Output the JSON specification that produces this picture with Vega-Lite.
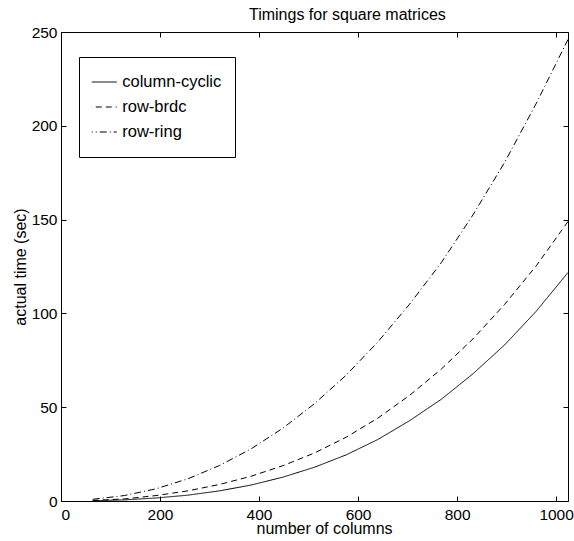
{
  "$schema": "https://vega.github.io/schema/vega-lite/v6.json",
  "width": 507,
  "height": 469,
  "autosize": {"type": "none"},
  "padding": {"left": 61, "top": 32, "right": 6, "bottom": 40},
  "background": "white",
  "title": {
    "text": "Timings for square matrices",
    "fontSize": 16,
    "font": "Liberation Sans",
    "fontWeight": "normal",
    "color": "black",
    "anchor": "start",
    "align": "left",
    "dx": 188,
    "frame": "group",
    "offset": -10.5,
    "baseline": "alphabetic"
  },
  "config": {
    "font": "Liberation Sans",
    "view": {"stroke": "black", "strokeWidth": 1},
    "axis": {
      "domain": false,
      "grid": false,
      "ticks": true,
      "tickSize": -5,
      "tickColor": "black",
      "tickWidth": 1,
      "labelFont": "Liberation Sans",
      "labelFontSize": 15.5,
      "labelColor": "black",
      "titleFont": "Liberation Sans",
      "titleFontSize": 16,
      "titleFontWeight": "normal",
      "titleColor": "black"
    }
  },
  "data": {
    "values": [
      {"n": 64, "time": 0.15, "method": "column-cyclic"},
      {"n": 128, "time": 0.6, "method": "column-cyclic"},
      {"n": 192, "time": 1.6, "method": "column-cyclic"},
      {"n": 256, "time": 3.1, "method": "column-cyclic"},
      {"n": 320, "time": 5.4, "method": "column-cyclic"},
      {"n": 384, "time": 8.5, "method": "column-cyclic"},
      {"n": 448, "time": 12.7, "method": "column-cyclic"},
      {"n": 512, "time": 18.0, "method": "column-cyclic"},
      {"n": 576, "time": 24.6, "method": "column-cyclic"},
      {"n": 640, "time": 32.8, "method": "column-cyclic"},
      {"n": 704, "time": 42.8, "method": "column-cyclic"},
      {"n": 768, "time": 54.2, "method": "column-cyclic"},
      {"n": 832, "time": 67.8, "method": "column-cyclic"},
      {"n": 896, "time": 83.2, "method": "column-cyclic"},
      {"n": 960, "time": 101.2, "method": "column-cyclic"},
      {"n": 1024, "time": 121.8, "method": "column-cyclic"},
      {"n": 64, "time": 0.3, "method": "row-brdc"},
      {"n": 128, "time": 1.1, "method": "row-brdc"},
      {"n": 192, "time": 2.9, "method": "row-brdc"},
      {"n": 256, "time": 5.4, "method": "row-brdc"},
      {"n": 320, "time": 8.8, "method": "row-brdc"},
      {"n": 384, "time": 13.2, "method": "row-brdc"},
      {"n": 448, "time": 18.8, "method": "row-brdc"},
      {"n": 512, "time": 25.6, "method": "row-brdc"},
      {"n": 576, "time": 34.0, "method": "row-brdc"},
      {"n": 640, "time": 44.2, "method": "row-brdc"},
      {"n": 704, "time": 56.3, "method": "row-brdc"},
      {"n": 768, "time": 70.3, "method": "row-brdc"},
      {"n": 832, "time": 86.4, "method": "row-brdc"},
      {"n": 896, "time": 104.8, "method": "row-brdc"},
      {"n": 960, "time": 125.4, "method": "row-brdc"},
      {"n": 1024, "time": 149.0, "method": "row-brdc"},
      {"n": 64, "time": 0.9, "method": "row-ring"},
      {"n": 128, "time": 2.9, "method": "row-ring"},
      {"n": 192, "time": 6.5, "method": "row-ring"},
      {"n": 256, "time": 11.8, "method": "row-ring"},
      {"n": 320, "time": 18.9, "method": "row-ring"},
      {"n": 384, "time": 27.8, "method": "row-ring"},
      {"n": 448, "time": 38.8, "method": "row-ring"},
      {"n": 512, "time": 51.9, "method": "row-ring"},
      {"n": 576, "time": 67.1, "method": "row-ring"},
      {"n": 640, "time": 84.8, "method": "row-ring"},
      {"n": 704, "time": 104.9, "method": "row-ring"},
      {"n": 768, "time": 127.0, "method": "row-ring"},
      {"n": 832, "time": 152.5, "method": "row-ring"},
      {"n": 896, "time": 180.5, "method": "row-ring"},
      {"n": 960, "time": 212.0, "method": "row-ring"},
      {"n": 1024, "time": 246.0, "method": "row-ring"}
    ]
  },
  "layer": [
    {
      "mark": {"type": "line", "color": "black", "strokeWidth": 1},
      "encoding": {
        "x": {
          "field": "n",
          "type": "quantitative",
          "scale": {"domain": [0, 1024], "nice": false, "zero": false},
          "axis": {
            "orient": "bottom",
            "values": [0, 200, 400, 600, 800, 1000],
            "format": "d",
            "title": "number of columns",
            "labelPadding": 11,
            "titleX": 195,
            "titleY": 32.5,
            "titleBaseline": "alphabetic",
            "titleAlign": "left"
          }
        },
        "y": {
          "field": "time",
          "type": "quantitative",
          "scale": {"domain": [0, 250], "nice": false},
          "axis": {
            "orient": "left",
            "values": [0, 50, 100, 150, 200, 250],
            "title": "actual time (sec)",
            "labelPadding": 9,
            "titleX": -41,
            "titleY": 234.5,
            "titleAngle": -90,
            "titleAlign": "center",
            "titleBaseline": "middle"
          }
        },
        "strokeDash": {
          "field": "method",
          "type": "nominal",
          "scale": {
            "domain": ["column-cyclic", "row-brdc", "row-ring"],
            "range": [[1, 0], [6, 4], [7, 3, 1, 3]]
          },
          "legend": {
            "orient": "none",
            "legendX": 18,
            "legendY": 25,
            "title": null,
            "strokeColor": "black",
            "fillColor": "white",
            "padding": 12.75,
            "clipHeight": 24.5,
            "rowPadding": 0,
            "symbolType": "stroke",
            "symbolSize": 961,
            "symbolOffset": -6.5,
            "symbolStrokeColor": "black",
            "symbolStrokeWidth": 1,
            "labelFont": "Liberation Sans",
            "labelFontSize": 16.5,
            "labelColor": "black",
            "labelOffset": 5
          }
        }
      }
    },
    {
      "mark": {"type": "point", "opacity": 0, "size": 0},
      "encoding": {
        "x": {
          "field": "n",
          "type": "quantitative",
          "axis": {"orient": "top", "labels": false, "title": null, "values": [0, 200, 400, 600, 800, 1000]}
        },
        "y": {
          "field": "time",
          "type": "quantitative",
          "axis": {"orient": "right", "labels": false, "title": null, "values": [0, 50, 100, 150, 200, 250]}
        }
      }
    }
  ]
}
